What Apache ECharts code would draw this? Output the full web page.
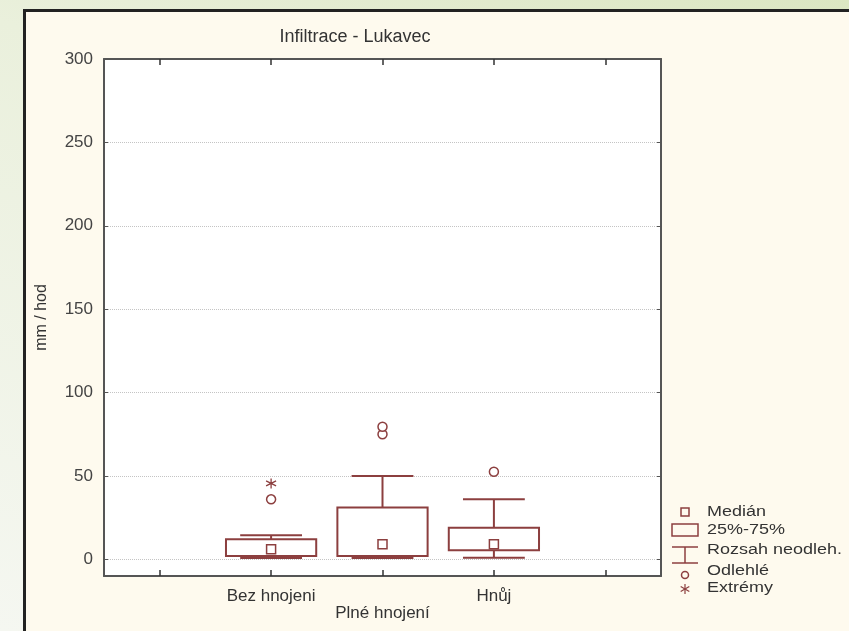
<!DOCTYPE html>
<html>
<head>
<meta charset="utf-8">
<title>Infiltrace - Lukavec</title>
<script src="https://cdn.jsdelivr.net/npm/echarts@6/dist/echarts.min.js"></script>
<style>
html, body { margin: 0; padding: 0; width: 849px; height: 631px; overflow: hidden;
  background: linear-gradient(200deg, #dbe6c2 0%, #eaf0dc 35%, #f5f7f1 100%); }
#frame { position: absolute; left: 23px; top: 9px; width: 840px; height: 640px;
  background: #fefaee; border-left: 3px solid #222; border-top: 3px solid #222; }
#chart { position: absolute; left: 0; top: 0; width: 849px; height: 631px; }
</style>
</head>
<body>
<div id="frame"></div>
<div id="chart"></div>
<script>
// categories (empty slots at both ends, like the original plot)
const categories = ['', 'Bez hnojeni', 'Plné hnojení', 'Hnůj', ''];
// [category index, whisker low, Q1, median, Q3, whisker high]
const boxes = [
    [1, 0.8, 2, 6, 12, 14.5],
    [2, 0.8, 2, 9, 31, 50],
    [3, 1, 5.5, 9, 19, 36]
];
const outliers = [[1, 36], [2, 75], [2, 79.5], [3, 52.5]];
const extremes = [[1, 45.5]];
const yTicks = [0, 50, 100, 150, 200, 250, 300];

const boxColor = '#8c3f3f';
const axisColor = '#555';
const fontName = '"Liberation Sans", Arial, sans-serif';

var myChart = echarts.init(document.getElementById('chart'));

function renderBox(params, api) {
    var x = api.value(0);
    var low = api.coord([x, api.value(1)]);
    var q1 = api.coord([x, api.value(2)]);
    var q3 = api.coord([x, api.value(4)]);
    var high = api.coord([x, api.value(5)]);
    var band = api.size([1, 0])[0];
    var bw = band * 0.81, cw = band * 0.555;
    var style = { stroke: boxColor, lineWidth: 2, fill: 'none' };
    return {
        type: 'group',
        children: [
            { type: 'line', shape: { x1: high[0], y1: high[1], x2: high[0], y2: q3[1] }, style: style },
            { type: 'line', shape: { x1: low[0], y1: low[1], x2: low[0], y2: q1[1] }, style: style },
            { type: 'line', shape: { x1: high[0] - cw / 2, y1: high[1], x2: high[0] + cw / 2, y2: high[1] }, style: style },
            { type: 'line', shape: { x1: low[0] - cw / 2, y1: low[1], x2: low[0] + cw / 2, y2: low[1] }, style: style },
            { type: 'rect', shape: { x: q3[0] - bw / 2, y: q3[1], width: bw, height: q1[1] - q3[1] }, style: style }
        ]
    };
}

// legend drawn by hand (Statistica style icons)
var legendTexts = ['Medián', '25%-75%', 'Rozsah neodleh.', 'Odlehlé', 'Extrémy'];
var legendY = [512, 530, 550, 571, 588];
var iconStyle = { stroke: boxColor, lineWidth: 1.5, fill: 'none' };
var starStyle = { stroke: boxColor, lineWidth: 1.2 };
var legendGraphics = [
    { type: 'rect', shape: { x: 681, y: 508, width: 8, height: 8 }, style: iconStyle },
    { type: 'rect', shape: { x: 672, y: 524, width: 26, height: 12 }, style: iconStyle },
    { type: 'line', shape: { x1: 672, y1: 547, x2: 698, y2: 547 }, style: iconStyle },
    { type: 'line', shape: { x1: 685, y1: 547, x2: 685, y2: 563 }, style: iconStyle },
    { type: 'line', shape: { x1: 672, y1: 563, x2: 698, y2: 563 }, style: iconStyle },
    { type: 'circle', shape: { cx: 685, cy: 575, r: 3.5 }, style: iconStyle },
    { type: 'line', shape: { x1: 685, y1: 584, x2: 685, y2: 594 }, style: starStyle },
    { type: 'line', shape: { x1: 680.7, y1: 586.5, x2: 689.3, y2: 591.5 }, style: starStyle },
    { type: 'line', shape: { x1: 680.7, y1: 591.5, x2: 689.3, y2: 586.5 }, style: starStyle }
];
legendTexts.forEach(function (t, i) {
    legendGraphics.push({
        type: 'text',
        x: 707,
        y: legendY[i],
        scaleY: 0.85,
        style: { text: t, x: 0, y: 0, font: '18px ' + fontName, fill: '#333', verticalAlign: 'middle' }
    });
});

var tickStyle = { show: true, inside: true, alignWithLabel: true, interval: 0, length: 6, lineStyle: { color: '#333', width: 1.5 } };

var option = {
    backgroundColor: 'transparent',
    animation: false,
    title: {
        text: 'Infiltrace - Lukavec',
        left: 350,
        textAlign: 'center',
        top: 23,
        textStyle: { fontSize: 18, fontWeight: 'normal', color: '#333', fontFamily: fontName }
    },
    grid: { left: 104, right: 188, top: 59, bottom: 55, backgroundColor: '#fff', show: true, borderWidth: 0 },
    xAxis: [{
        type: 'category',
        data: categories,
        position: 'bottom',
        axisLine: { onZero: false, lineStyle: { color: axisColor, width: 2 } },
        axisTick: tickStyle,
        axisLabel: {
            interval: 0, margin: 12, fontSize: 17, lineHeight: 17, color: '#333', fontFamily: fontName,
            formatter: function (v, i) { return i === 2 ? '\n' + v : v; }
        },
        splitLine: { show: false }
    }, {
        type: 'category',
        data: categories,
        position: 'top',
        axisLine: { onZero: false, lineStyle: { color: axisColor, width: 2 } },
        axisTick: tickStyle,
        axisLabel: { show: false },
        splitLine: { show: false }
    }],
    yAxis: [{
        type: 'value',
        min: -10,
        max: 300,
        name: 'mm / hod',
        nameLocation: 'middle',
        nameRotate: 90,
        nameGap: 54,
        nameTextStyle: { fontSize: 16, color: '#333', fontFamily: fontName },
        axisLine: { show: true, onZero: false, lineStyle: { color: axisColor, width: 2 } },
        axisTick: { show: true, inside: true, length: 4, customValues: yTicks, lineStyle: { color: axisColor } },
        axisLabel: { margin: 11, fontSize: 17, color: '#444', fontFamily: fontName, customValues: yTicks },
        splitLine: { show: true, lineStyle: { color: '#c4c4c4', type: 'dotted', width: 1 } }
    }, {
        type: 'value',
        min: -10,
        max: 300,
        position: 'right',
        axisLine: { show: true, onZero: false, lineStyle: { color: axisColor, width: 2 } },
        axisTick: { show: true, inside: true, length: 4, customValues: yTicks, lineStyle: { color: axisColor } },
        axisLabel: { show: false },
        splitLine: { show: false }
    }],
    graphic: legendGraphics,
    series: [{
        type: 'custom',
        renderItem: renderBox,
        encode: { x: 0, y: [1, 2, 3, 4, 5] },
        data: boxes,
        z: 3
    }, {
        type: 'scatter',
        data: boxes.map(function (b) { return [b[0], b[3]]; }),
        symbol: 'rect',
        symbolSize: 9,
        itemStyle: { color: '#fff', borderColor: boxColor, borderWidth: 1.5, opacity: 1 },
        z: 4
    }, {
        type: 'scatter',
        data: outliers,
        symbol: 'circle',
        symbolSize: 9,
        itemStyle: { color: '#fff', borderColor: boxColor, borderWidth: 1.5, opacity: 1 },
        z: 4
    }, {
        type: 'scatter',
        data: extremes,
        symbol: 'path://M5 0 L5 10 M0.7 2.5 L9.3 7.5 M0.7 7.5 L9.3 2.5',
        symbolSize: 10,
        itemStyle: { color: 'none', borderColor: boxColor, borderWidth: 1.3, opacity: 1 },
        z: 4
    }]
};
myChart.setOption(option);
</script>
</body>
</html>
